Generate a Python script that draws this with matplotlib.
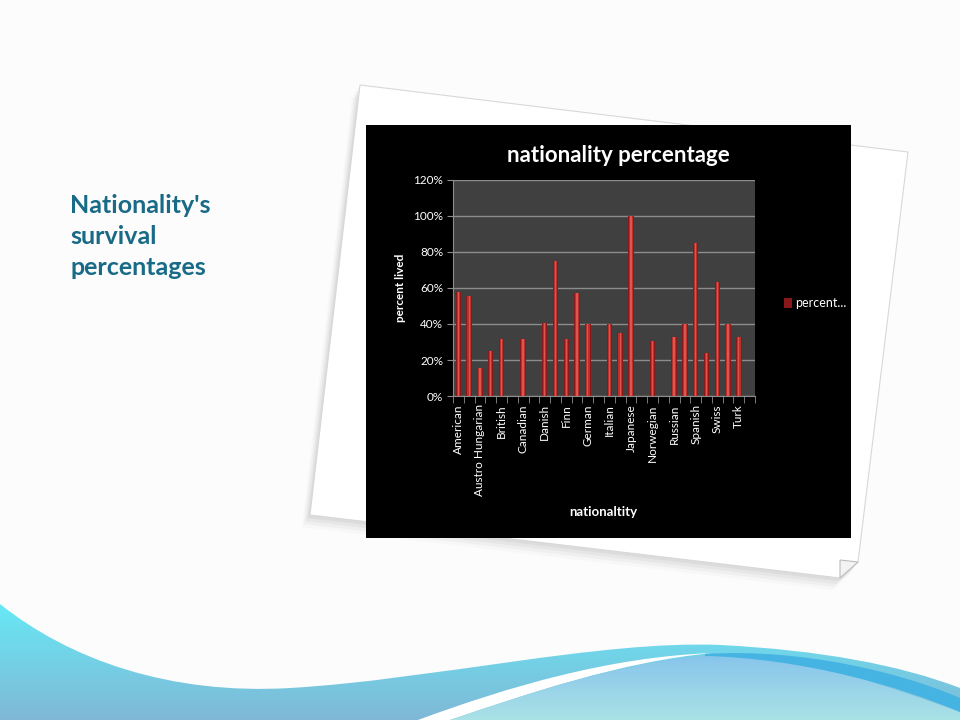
import numpy as np
import matplotlib.pyplot as plt
from matplotlib.path import Path
from matplotlib.patches import PathPatch, Polygon, Rectangle
from matplotlib.colors import LinearSegmentedColormap
from matplotlib.ticker import PercentFormatter

plt.rcParams['font.family'] = ['Lato', 'DejaVu Sans']

# survival share per nationality (only every other name is printed on the axis)
nationalities = ["American", "Austrian", "Austro Hungarian", "Belgian", "British",
                 "Bulgarian", "Canadian", "Croatian", "Danish", "English", "Finn",
                 "French", "German", "Greek", "Italian", "Jamaican", "Japanese",
                 "Lebanese", "Norwegian", "Portuguese", "Russian", "Scottish",
                 "Spanish", "Swedish", "Swiss", "Syrian", "Turk", "Uruguayan"]
percent_lived = [0.577, 0.553, 0.155, 0.248, 0.316, 0.0, 0.316, 0.0, 0.405, 0.75,
                 0.316, 0.575, 0.40, 0.0, 0.40, 0.348, 1.0, 0.0, 0.305, 0.0,
                 0.327, 0.40, 0.852, 0.237, 0.636, 0.40, 0.327, 0.0]
y_ticks = [0, 0.2, 0.4, 0.6, 0.8, 1.0, 1.2]

slide_title = "Nationality's\nsurvival\npercentages"
chart_title = "nationality percentage"
legend_label = "percent..."

W, H = 960, 720
fig = plt.figure(figsize=(9.6, 7.2), dpi=100, facecolor='#fcfcfc')

# background layer in pixel coordinates
bg = fig.add_axes([0, 0, 1, 1])
bg.set_xlim(0, W)
bg.set_ylim(H, 0)
bg.axis('off')


def curve_patch(verts, codes, **kw):
    return PathPatch(Path(verts, codes), **kw)


def gradient_fill(patch, top, bottom, y0, y1):
    cmap = LinearSegmentedColormap.from_list('g', [top, bottom])
    grad = np.linspace(0, 1, 256).reshape(-1, 1)
    im = bg.imshow(grad, cmap=cmap, extent=[0, W, y1, y0], origin='upper',
                   aspect='auto', zorder=patch.get_zorder())
    im.set_clip_path(patch)


M, C, L, Z = Path.MOVETO, Path.CURVE4, Path.LINETO, Path.CLOSEPOLY

# cyan wave
cyan = curve_patch(
    [(0, 604), (70, 660), (170, 695), (290, 688), (430, 680), (600, 640), (720, 645),
     (820, 650), (900, 665), (960, 688), (960, 720), (0, 720), (0, 604)],
    [M, C, C, C, C, C, C, C, C, C, L, L, Z], facecolor='none', edgecolor='none', zorder=1)
bg.add_patch(cyan)
gradient_fill(cyan, '#66eaf6', '#80b8d6', 600, 720)

# white stripe
white = curve_patch(
    [(418, 720), (510, 686), (610, 657), (712, 653), (620, 662), (530, 693), (450, 720), (418, 720)],
    [M, C, C, C, C, C, C, Z], facecolor='white', edgecolor='none', zorder=2)
bg.add_patch(white)

# light blue wave
light = curve_patch(
    [(450, 720), (530, 693), (620, 662), (712, 655), (800, 654), (900, 690), (960, 712),
     (960, 720), (450, 720)],
    [M, C, C, C, C, C, C, L, Z], facecolor='none', edgecolor='none', zorder=2)
bg.add_patch(light)
gradient_fill(light, '#84c2ec', '#aae2e6', 650, 720)

# darker blue stripe
stripe = curve_patch(
    [(705, 654), (800, 648), (900, 672), (960, 698), (960, 712), (900, 686), (800, 658),
     (705, 656), (705, 654)],
    [M, C, C, C, L, C, C, C, Z], facecolor='#45b4e2', edgecolor='none', zorder=3)
bg.add_patch(stripe)

# tilted paper behind the chart
paper = [(360, 85), (908, 152), (858, 562), (840, 578), (310, 515)]
for dx, dy, a in [(-2, 3, 0.10), (-4, 6, 0.08), (-6, 9, 0.06), (-8, 12, 0.04)]:
    bg.add_patch(Polygon([(x + dx, y + dy) for x, y in paper], closed=True,
                         facecolor='#808080', edgecolor='none', alpha=a, zorder=3.5))
bg.add_patch(Polygon(paper, closed=True, facecolor='white', edgecolor='#d8d8d8',
                     lw=0.8, zorder=4))
bg.add_patch(Polygon([(840, 560), (858, 562), (840, 578)], closed=True,
                     facecolor='#f3f3f3', edgecolor='#bcbcbc', lw=0.8, zorder=4.2))

# slide heading
bg.text(70, 194, slide_title, color='#186a86', fontsize=18, fontweight='bold',
        va='top', ha='left', linespacing=1.42, zorder=5)

# chart area
bg.add_patch(Rectangle((366, 125), 485, 413, facecolor='black', edgecolor='none', zorder=5))
bg.text(618, 155, chart_title, color='white', fontsize=16, fontweight='bold',
        ha='center', va='center', zorder=6)
bg.text(400, 288, "percent lived", color='white', fontsize=8.5, fontweight='bold',
        rotation=90, ha='center', va='center', zorder=6)
bg.text(603, 512, "nationaltity", color='white', fontsize=9.5, fontweight='bold',
        ha='center', va='center', zorder=6)

ax = fig.add_axes([453 / W, 1 - 396 / H, 302 / W, 216 / H], facecolor='#404040')
ax.set_zorder(3)
x = np.arange(len(nationalities))
bars = ax.bar(x, percent_lived, width=0.5, color='#8a1818', zorder=2, label=legend_label)
ax.bar(x, percent_lived, width=0.32, color='#bb302b', zorder=3)
ax.bar(x, percent_lived, width=0.12, color='#d9574e', zorder=4)

ax.set_xlim(-0.5, len(nationalities) - 0.5)
ax.set_ylim(0, 1.2)
ax.set_yticks(y_ticks)
ax.yaxis.set_major_formatter(PercentFormatter(1.0, decimals=0))
ax.yaxis.grid(True, color='#8c8c8c', lw=1)
ax.set_axisbelow(True)

ax.set_xticks(x[::2])
ax.set_xticklabels(nationalities[::2], rotation=90)
ax.set_xticks(np.arange(-0.5, len(nationalities)), minor=True)
ax.tick_params(axis='x', which='major', length=0, pad=6, labelcolor='white', labelsize=8.5)
ax.tick_params(axis='x', which='minor', length=5, color='#8c8c8c', direction='out')
ax.tick_params(axis='y', length=4, color='#8c8c8c', labelcolor='white', labelsize=8.5, pad=3)

for side in ['top', 'right']:
    ax.spines[side].set_visible(False)
for side in ['left', 'bottom']:
    ax.spines[side].set_color('#8c8c8c')

leg = ax.legend(handles=[bars], loc='center left', bbox_to_anchor=(784 / W, 1 - 303 / H),
                bbox_transform=fig.transFigure, frameon=False, fontsize=9,
                handlelength=0.6, handleheight=0.9, handletextpad=0.3,
                borderpad=0, borderaxespad=0)
for t in leg.get_texts():
    t.set_color('white')

fig.savefig('out.png', dpi=100, facecolor=fig.get_facecolor())
